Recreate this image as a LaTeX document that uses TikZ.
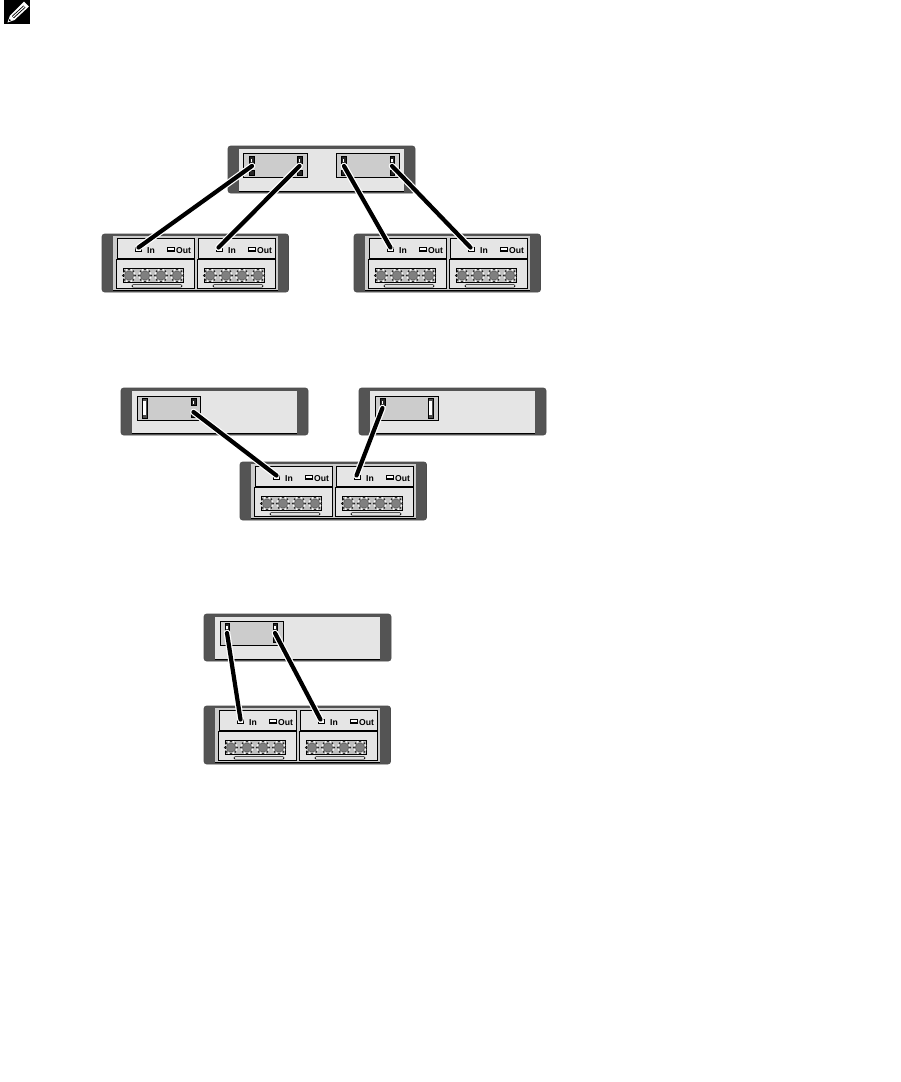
\documentclass[tikz,border=0pt]{standalone}
\usepackage{fontspec}
\setmainfont{Liberation Sans}
\definecolor{frameC}{gray}{0.33}
\definecolor{panelC}{gray}{0.90}
\definecolor{modC}{gray}{0.80}
\tikzset{
  x=1pt,y=-1pt,
  frameS/.style={fill=frameC,draw=black!70,line width=0.6pt,rounded corners=2.5pt},
  moduleS/.style={fill=modC,draw=black,line width=1pt},
  boxS/.style={fill=panelC,draw=black,line width=0.9pt},
  portS/.style={fill=black!85,draw=black,line width=0.4pt},
  holeS/.style={fill=white,draw=none},
  fanS/.style={fill=black!50,draw=black!65,line width=0.5pt},
  fanBlockS/.style={fill=black!25,draw=black,line width=0.7pt},
  handleS/.style={fill=white,draw=black,line width=0.6pt,rounded corners=1pt},
  cableS/.style={draw=white,line width=6.6pt,line cap=round,postaction={draw=black,line width=4.2pt,line cap=round}},
  labelS/.style={font=\bfseries\fontsize{8.6}{9}\selectfont,inner sep=0pt,anchor=mid},
}
\newcommand{\ctlmodule}[3]{
  \draw[moduleS] (#2,#3) rectangle ++(63.5,24.5);
  \coordinate (#1-L) at (#2+8.5,#3+10);
  \coordinate (#1-R) at (#2+56,#3+10);
}
% connected port: upper piece with a small window
\newcommand{\portbit}[3]{
  \draw[portS] (#1-2.3,#2) rectangle ++(4.6,#3);
  \fill[holeS] (#1-0.9,#2+3) rectangle ++(1.8,#3-4);
}
% lower solid piece
\newcommand{\portlow}[3]{
  \draw[portS] (#1-2.3,#2) rectangle ++(4.6,#3);
}
% free port: tall slot
\newcommand{\portfree}[3]{
  \draw[portS,fill=black!70] (#1-2.5,#2) rectangle ++(5,#3);
  \fill[holeS] (#1-1.2,#2+3) rectangle ++(2.4,#3-6);
}
\newcommand{\expcard}[2]{%
  \begin{scope}[shift={(#1,#2)}]
  \draw[boxS] (0,0) rectangle (77.5,19.5);
  \draw[boxS] (-0.8,21) rectangle (77.8,50);
  \draw[black,line width=0.9pt,fill=white] (18.5,8.7) rectangle ++(5.5,4);
  \node[labelS] at (34,12.6) {In};
  \draw[black,line width=1.3pt,fill=white] (50.5,8.7) rectangle ++(6.8,3.8);
  \node[labelS] at (66.5,12.6) {Out};
  \draw[fanBlockS] (6,30) rectangle ++(60,14);
  \foreach \c in {12,28,44,60}{
    \foreach \a in {0,45,...,315}{
      \fill[white] (\c,37)++(\a+22.5:6.1) circle (0.9pt);
      \fill[black!85] (\c,37)++(\a:6.1) circle (1pt);
    }
    \draw[fanS] (\c,37) circle (4.6pt);
  }
  \draw[handleS] (15,46.2) rectangle ++(50,2.4);
  \end{scope}
}
\newcommand{\expansion}[3]{%
  \begin{scope}[shift={(#2,#3)}]
  \draw[frameS] (0,0) rectangle (186.5,58);
  \fill[modC] (11,1.5) rectangle (175.5,56);
  \draw[black,line width=0.8pt] (11,56) -- (175.5,56);
  \expcard{15}{4.5}
  \expcard{96}{4.5}
  \coordinate (#1-a) at (36.5,13.5);
  \coordinate (#1-b) at (116.5,13.5);
  \end{scope}
}
\newcommand{\controller}[3]{%
  \begin{scope}[shift={(#2,#3)}]
  \draw[frameS] (0,0) rectangle (187,47);
  \fill[panelC] (10.5,2.5) rectangle (176,45);
  \draw[black,line width=0.8pt] (10.5,45) -- (176,45);
  \end{scope}
}
\begin{document}
\begin{tikzpicture}
\useasboundingbox (0,0) rectangle (900,1082);
\fill[white] (0,0) rectangle (900,1082);
% note icon
\fill[black] (4,0) rectangle (30,24);
\fill[white] (24,1.5) -- (29,6.5) -- (14.5,20) -- (7.5,22.5) -- (10,15.5) -- cycle;
\fill[black] (23.5,5.5) -- (25.5,7.5) -- (14,18) -- (12,16) -- cycle;
\fill[white] (24,6.2) -- (24.8,7) -- (13.5,17.2) -- (12.8,16.4) -- cycle;
\fill[black] (9.5,19) -- (11,20.3) -- (8.8,21.2) -- cycle;

% ---- top
\controller{c1}{228}{146}
\ctlmodule{c1m1}{243.5}{153}
\ctlmodule{c1m2}{336}{153}
\portbit{251.5}{156}{7}\portlow{251.5}{170}{5}
\portbit{299.5}{156}{7}\portlow{299.5}{170}{5}
\portbit{343.5}{156}{7}\portlow{343}{170}{5}
\portbit{392}{156}{7}\portlow{392}{170}{5}
\expansion{e1}{102}{234}
\expansion{e2}{354}{234}
\coordinate (c1a) at (252,166);
\coordinate (c1b) at (299.5,166);
\coordinate (c1c) at (344,166);
\coordinate (c1d) at (392,166);
\draw[cableS] (c1a) -- (e1-a);
\draw[cableS] (c1b) -- (e1-b);
\draw[cableS] (c1c) -- (e2-a);
\draw[cableS] (c1d) -- (e2-b);

% ---- middle
\controller{c2}{121}{388}
\ctlmodule{c2m}{137}{396}
\portfree{144.5}{398}{20}
\portbit{193.5}{398}{7}\portlow{193.5}{412}{5}
\controller{c3}{359}{388}
\ctlmodule{c3m}{375}{396}
\portbit{382.5}{398}{7}
\portfree{430.5}{398}{20}
\expansion{e3}{240}{462}
\coordinate (c2a) at (193.5,412);
\coordinate (c3a) at (382.5,408);
\draw[cableS] (c2a) -- (e3-a);
\draw[cableS] (c3a) -- (e3-b);

% ---- bottom
\controller{c4}{204}{614}
\ctlmodule{c4m}{220}{621}
\portbit{227}{623}{7}
\portbit{275}{623}{7}\portlow{275}{637}{5}
\expansion{e4}{204}{706}
\coordinate (c4a) at (227,633);
\coordinate (c4b) at (275,633);
\draw[cableS] (c4a) -- (e4-a);
\draw[cableS] (c4b) -- (e4-b);
\end{tikzpicture}
\end{document}
